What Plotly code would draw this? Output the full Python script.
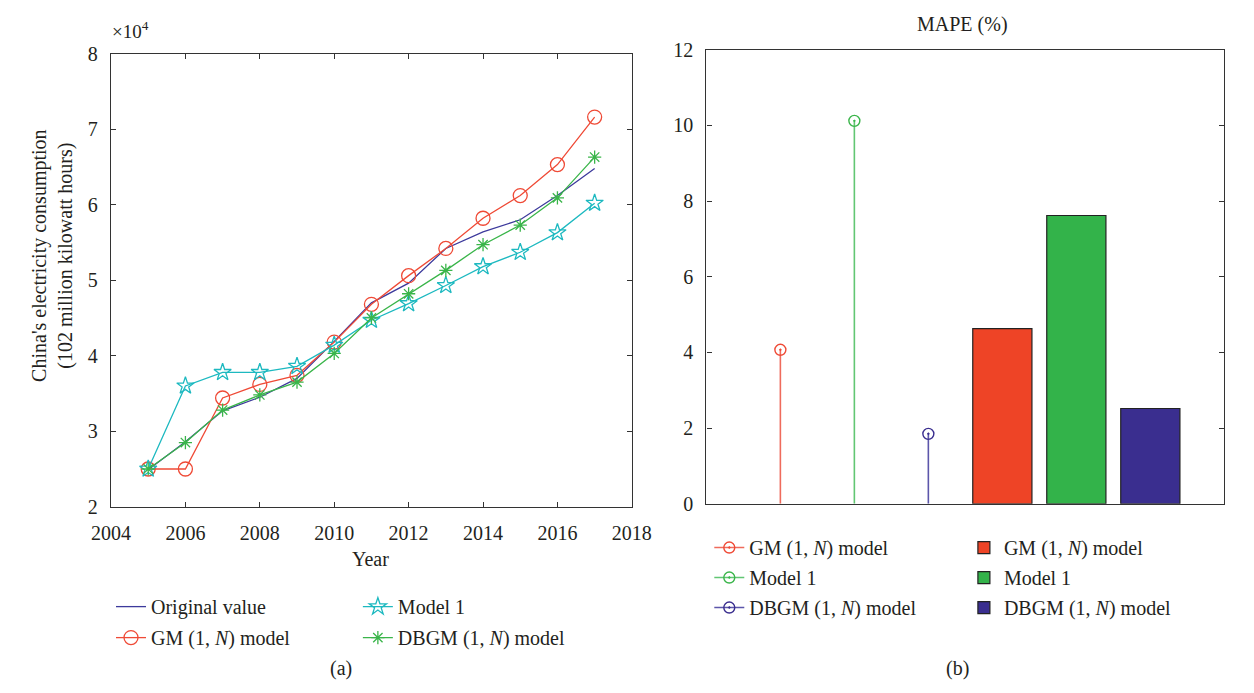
import plotly.graph_objects as go

# ---------------- data ----------------
years = [2005, 2006, 2007, 2008, 2009, 2010, 2011, 2012, 2013, 2014, 2015, 2016, 2017]
original_value = [2.49, 2.86, 3.27, 3.45, 3.70, 4.19, 4.70, 4.96, 5.42, 5.64, 5.80, 6.12, 6.48]
gm_model = [2.50, 2.50, 3.44, 3.62, 3.74, 4.18, 4.68, 5.06, 5.42, 5.82, 6.12, 6.53, 7.16]
model_1 = [2.50, 3.60, 3.78, 3.78, 3.86, 4.14, 4.47, 4.69, 4.93, 5.18, 5.37, 5.63, 6.02]
dbgm_model = [2.50, 2.85, 3.28, 3.48, 3.65, 4.03, 4.50, 4.82, 5.13, 5.47, 5.73, 6.09, 6.63]

mape_models = ["GM (1, <i>N</i>) model", "Model 1", "DBGM (1, <i>N</i>) model"]
mape_stem_values = [4.07, 10.12, 1.85]
mape_bar_values = [4.63, 7.62, 2.52]
stem_positions = [1, 2, 3]
bar_positions = [4, 5, 6]

left_ticks = [2004, 2006, 2008, 2010, 2012, 2014, 2016, 2018]

# ---------------- style ----------------
W, H = 1254, 693
FONT = "Liberation Serif"
TXT = "#231F20"
C_ORIG = "#3D3A9C"
C_RED = "#EF4A36"
C_CYAN = "#1DB9C0"
C_GREEN = "#3AB54A"
C_BAR_RED = "#EE4426"
C_BAR_GREEN = "#33B34A"
C_BAR_BLUE = "#3A2E8F"
C_STEM = ["#EF6B5C", "#62C673", "#5C56AA"]
C_HEAD = ["#EF4A36", "#3AB54A", "#3A2E8F"]
C_BARS = [C_BAR_RED, C_BAR_GREEN, C_BAR_BLUE]


def px(x):
    return x / W


def py(y):
    return 1 - y / H


fig = go.Figure()

# ---------------- left panel ----------------
fig.add_trace(go.Scatter(x=years, y=original_value, mode="lines", name="Original value",
                         line=dict(color=C_ORIG, width=1.3), legend="legend", legendgroup="a1",
                         xaxis="x", yaxis="y"))
fig.add_trace(go.Scatter(x=years, y=gm_model, mode="lines+markers", name="GM (1, <i>N</i>) model",
                         line=dict(color=C_RED, width=1.3),
                         marker=dict(symbol="circle-open", size=14, color=C_RED, line=dict(width=1.3)),
                         legend="legend", legendgroup="a2", xaxis="x", yaxis="y"))
fig.add_trace(go.Scatter(x=years, y=model_1, mode="lines+markers", name="Model 1",
                         line=dict(color=C_CYAN, width=1.3),
                         marker=dict(symbol="star-open", size=13, color=C_CYAN, line=dict(width=1.3)),
                         legend="legend2", legendgroup="b1", xaxis="x", yaxis="y"))
fig.add_trace(go.Scatter(x=years, y=dbgm_model, mode="lines+markers", name="DBGM (1, <i>N</i>) model",
                         line=dict(color=C_GREEN, width=1.3),
                         marker=dict(symbol="asterisk-open", size=11, color=C_GREEN, line=dict(width=1.3, color=C_GREEN)),
                         legend="legend2", legendgroup="b2", xaxis="x", yaxis="y"))

# ---------------- right panel: stems ----------------
for i in range(3):
    fig.add_trace(go.Scatter(x=[stem_positions[i], stem_positions[i]], y=[0, mape_stem_values[i]],
                             mode="lines", line=dict(color=C_STEM[i], width=1.6),
                             showlegend=False, hoverinfo="skip", xaxis="x2", yaxis="y2"))
    fig.add_trace(go.Scatter(x=[stem_positions[i]], y=[mape_stem_values[i]], mode="lines+markers",
                             name=mape_models[i], line=dict(color=C_STEM[i], width=1.6),
                             marker=dict(symbol="circle-open-dot", size=11, color=C_HEAD[i], line=dict(width=1.4)),
                             legend="legend3", legendgroup="s%d" % i, xaxis="x2", yaxis="y2"))

# ---------------- right panel: bars ----------------
for i in range(3):
    fig.add_trace(go.Bar(x=[bar_positions[i]], y=[mape_bar_values[i]], name=mape_models[i], width=0.8,
                         marker=dict(color=C_BARS[i], line=dict(color="#222222", width=1.2)),
                         legend="legend4", legendgroup="r%d" % i, xaxis="x2", yaxis="y2"))

axis_common = dict(showline=True, linecolor="#333333", linewidth=1.3, mirror="ticks",
                   ticks="inside", ticklen=5, tickwidth=1.2, tickcolor="#333333",
                   showgrid=False, zeroline=False,
                   tickfont=dict(family=FONT, size=20, color=TXT))

fig.update_layout(
    width=W, height=H,
    margin=dict(l=0, r=0, t=0, b=0),
    paper_bgcolor="white", plot_bgcolor="white",
    font=dict(family=FONT, size=20, color=TXT),
    showlegend=True,
    barmode="overlay",
    xaxis=dict(domain=[px(94), px(632)], range=[2004, 2018], tickvals=left_ticks,
               ticklabelstandoff=8, anchor="y", **axis_common),
    yaxis=dict(domain=[py(512), py(44)], range=[2, 8], dtick=1,
               ticklabelstandoff=8, anchor="x", **axis_common),
    xaxis2=dict(domain=[px(709), px(1244)], range=[0, 7], showticklabels=False,
                showline=True, linecolor="#333333", linewidth=1.3, mirror=True,
                ticks="", showgrid=False, zeroline=False, anchor="y2"),
    yaxis2=dict(domain=[py(509), py(40)], range=[0, 12], dtick=2,
                ticklabelstandoff=8, anchor="x2", **axis_common),
    legend=dict(x=px(94), y=py(595), xanchor="left", yanchor="top", bgcolor="rgba(0,0,0,0)",
                font=dict(family=FONT, size=20, color=TXT), tracegroupgap=2, itemwidth=30),
    legend2=dict(x=px(349), y=py(595), xanchor="left", yanchor="top", bgcolor="rgba(0,0,0,0)",
                 font=dict(family=FONT, size=20, color=TXT), tracegroupgap=2, itemwidth=30),
    legend3=dict(x=px(712), y=py(534), xanchor="left", yanchor="top", bgcolor="rgba(0,0,0,0)",
                 font=dict(family=FONT, size=20, color=TXT), tracegroupgap=1, itemwidth=30),
    legend4=dict(x=px(975), y=py(534), xanchor="left", yanchor="top", bgcolor="rgba(0,0,0,0)",
                 font=dict(family=FONT, size=20, color=TXT), tracegroupgap=1, itemwidth=30),
    annotations=[
        dict(text="×10<sup>4</sup>", x=px(93), y=py(20), xref="paper", yref="paper",
             xanchor="left", yanchor="middle", showarrow=False, font=dict(family=FONT, size=19, color=TXT)),
        dict(text="China's electricity consumption<br>(102 million kilowatt hours)", textangle=-90,
             x=px(34), y=py(253), xref="paper", yref="paper", xanchor="center", yanchor="middle",
             showarrow=False, font=dict(family=FONT, size=20, color=TXT)),
        dict(text="Year", x=px(362), y=py(566), xref="paper", yref="paper",
             xanchor="center", yanchor="middle", showarrow=False, font=dict(family=FONT, size=20, color=TXT)),
        dict(text="MAPE (%)", x=px(974), y=py(14), xref="paper", yref="paper",
             xanchor="center", yanchor="middle", showarrow=False, font=dict(family=FONT, size=20, color=TXT)),
        dict(text="(a)", x=px(332), y=py(679), xref="paper", yref="paper",
             xanchor="center", yanchor="middle", showarrow=False, font=dict(family=FONT, size=20, color=TXT)),
        dict(text="(b)", x=px(968), y=py(679), xref="paper", yref="paper",
             xanchor="center", yanchor="middle", showarrow=False, font=dict(family=FONT, size=20, color=TXT)),
    ],
)

fig.write_html("out.html", config={"displayModeBar": False},
               post_script="document.body.style.margin='0';document.body.style.overflow='hidden';")
